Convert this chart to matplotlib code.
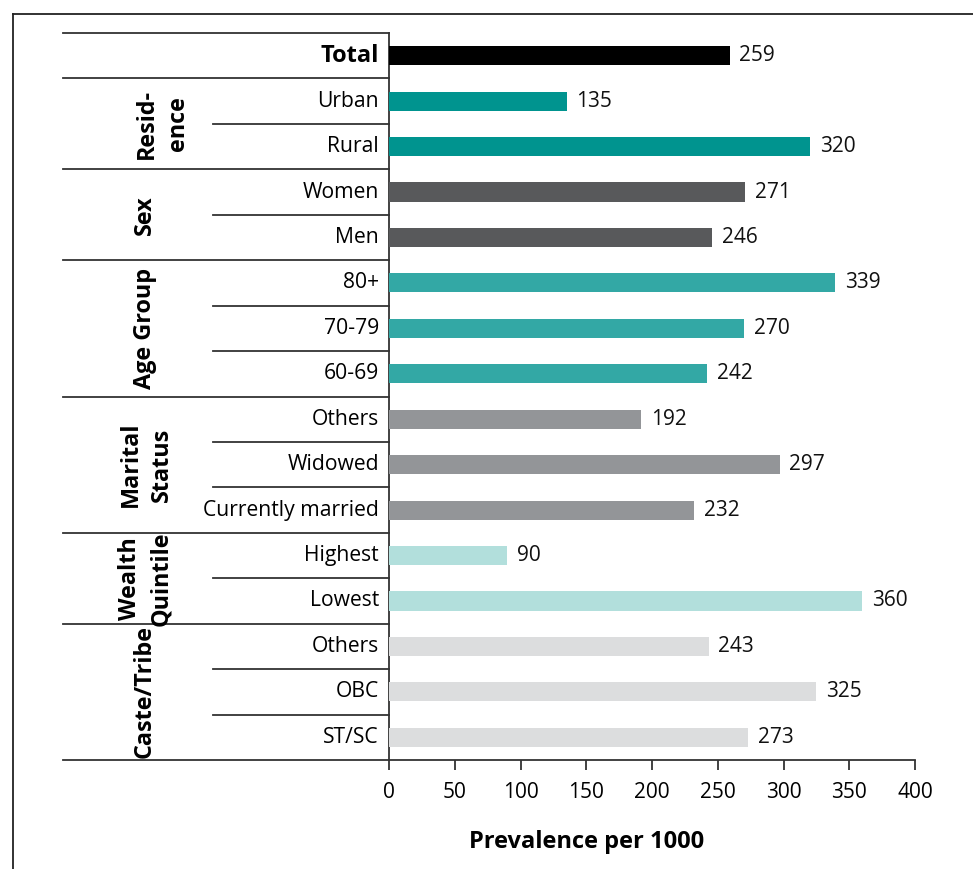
import matplotlib
matplotlib.use("Agg")
import matplotlib.pyplot as plt
from matplotlib.lines import Line2D
from matplotlib.transforms import blended_transform_factory

plt.rcParams['font.family'] = ['Open Sans', 'DejaVu Sans']

# Data (top to bottom)
categories = ["Total", "Urban", "Rural", "Women", "Men", "80+", "70-79", "60-69",
              "Others", "Widowed", "Currently married", "Highest", "Lowest",
              "Others", "OBC", "ST/SC"]
values = [259, 135, 320, 271, 246, 339, 270, 242, 192, 297, 232, 90, 360, 243, 325, 273]
group_of_row = [0, 1, 1, 2, 2, 3, 3, 3, 4, 4, 4, 5, 5, 6, 6, 6]
group_names = [None, "Resid-\nence", "Sex", "Age Group", "Marital\nStatus",
               "Wealth\nQuintile", "Caste/Tribe"]
group_colors = ["#000000", "#00948f", "#58595b", "#33a8a5", "#939598",
                "#b2dfdc", "#dcddde"]
xticks = [0, 50, 100, 150, 200, 250, 300, 350, 400]

W, H = 973, 869
fig = plt.figure(figsize=(W / 100, H / 100), dpi=100)
ax_left, ax_right, ax_top, ax_bottom = 389, 915, 33, 760
ax = fig.add_axes([ax_left / W, 1 - ax_bottom / H,
                   (ax_right - ax_left) / W, (ax_bottom - ax_top) / H])

n = len(categories)
ypos = list(range(n))
colors = [group_colors[g] for g in group_of_row]
ax.barh(ypos, values, height=0.42, color=colors, zorder=3)
ax.set_ylim(n - 0.5, -0.5)
ax.set_xlim(0, 400)

for y, v in zip(ypos, values):
    ax.text(v + 7.5, y, str(v), va="center", ha="left", fontsize=15, color="#111111")

# Axis styling
for s in ["top", "right"]:
    ax.spines[s].set_visible(False)
line_col = "#333333"
ax.spines["left"].set_color(line_col)
ax.spines["bottom"].set_color(line_col)
ax.spines["left"].set_linewidth(1.3)
ax.spines["bottom"].set_linewidth(1.3)
ax.set_xticks(xticks)
ax.set_xticklabels([str(t) for t in xticks], fontsize=15)
ax.tick_params(axis="x", length=7, width=1.3, color=line_col, pad=9)
ax.set_yticks([])

# Axis title
fig.text(587 / W, 1 - 842 / H, "Prevalence per 1000", ha="center", va="center",
         fontsize=17, fontweight="bold")

# Category labels
trans = blended_transform_factory(ax.transAxes, ax.transData)
axw = ax_right - ax_left
def xa(px):
    return (px - ax_left) / axw

for y, c in zip(ypos, categories):
    if y == 0:
        ax.text(xa(379), y, c, ha="right", va="center", fontsize=17,
                fontweight="bold", transform=trans)
    else:
        ax.text(xa(379), y, c, ha="right", va="center", fontsize=15.2,
                transform=trans)

# Separators between rows and groups
def hline(y, x0px):
    ax.add_line(Line2D([xa(x0px), 0], [y, y], transform=trans, color=line_col,
                       lw=1.3, clip_on=False))

hline(-0.5, 63)
hline(n - 0.5, 63)
for i in range(n - 1):
    if group_of_row[i] != group_of_row[i + 1]:
        hline(i + 0.5, 63)
    else:
        hline(i + 0.5, 213)

# Group labels (rotated)
group_x = {1: 162, 2: 145, 3: 145, 4: 146, 5: 146, 6: 145}
for g, name in enumerate(group_names):
    if name is None:
        continue
    rows = [i for i, gg in enumerate(group_of_row) if gg == g]
    yc = (rows[0] + rows[-1]) / 2
    ax.text(xa(group_x[g]), yc, name, rotation=90, ha="center", va="center",
            fontsize=16.8, fontweight="bold", linespacing=1.4,
            multialignment="center", transform=trans)

# Outer frame (top and left edges)
fig.add_artist(Line2D([13 / W, 13 / W], [0, 1 - 14 / H], color="#222222", lw=1.3))
fig.add_artist(Line2D([13 / W, 1], [1 - 14 / H, 1 - 14 / H], color="#222222", lw=1.3))

fig.savefig("out.png", dpi=100)
